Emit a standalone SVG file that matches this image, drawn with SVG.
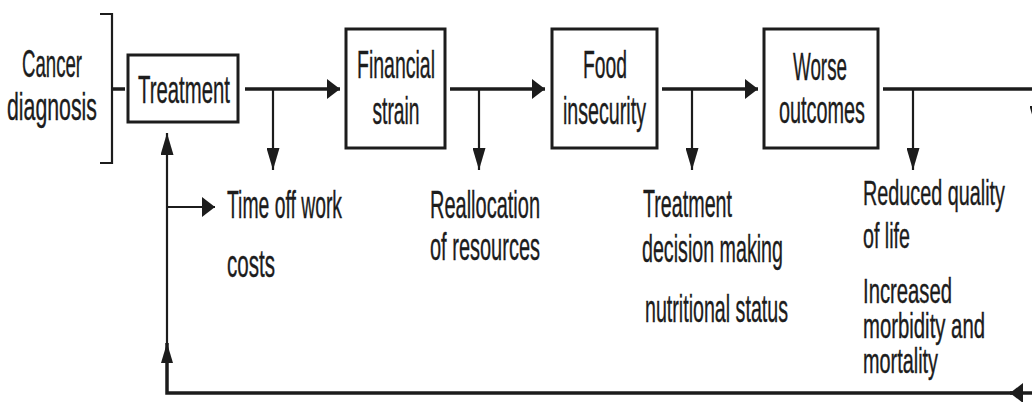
<svg xmlns="http://www.w3.org/2000/svg" width="1032" height="402" viewBox="0 0 1032 402">
<style>
  .t { font-family: "Liberation Sans", Arial, sans-serif; font-size: 39px; fill: #1c1c1c; stroke: #1c1c1c; stroke-width: 0.4; }
  .s { font-size: 35px; }
  .c { text-anchor: middle; }
  .box { fill: #ffffff; stroke: #1c1c1c; stroke-width: 3; }
  .main { fill: none; stroke: #1c1c1c; stroke-width: 3.5; }
  .br { fill: none; stroke: #1c1c1c; stroke-width: 2.2; }
</style>
<defs>
  <marker id="ah" markerUnits="userSpaceOnUse" markerWidth="13" markerHeight="20" refX="13" refY="10" orient="auto">
    <polygon points="0,0 13,10 0,20" fill="#1c1c1c"/>
  </marker>
  <marker id="av" markerUnits="userSpaceOnUse" markerWidth="22" markerHeight="13" refX="22" refY="6.5" orient="auto">
    <polygon points="0,0 22,6.5 0,13" fill="#1c1c1c"/>
  </marker>
</defs>
<rect width="1032" height="402" fill="#ffffff"/>

<g id="cancer-diagnosis">
  <path class="br" d="M100,14 H112 V163 H100"/>
  <text class="t c" x="52" y="77" textLength="60" lengthAdjust="spacingAndGlyphs">Cancer</text>
  <text class="t c" x="52" y="120" textLength="90" lengthAdjust="spacingAndGlyphs">diagnosis</text>
</g>

<g id="treatment">
  <rect class="box" x="128" y="55" width="110" height="67"/>
  <text class="t c" x="184" y="103" textLength="92" lengthAdjust="spacingAndGlyphs">Treatment</text>
</g>

<g id="financial-strain">
  <rect class="box" x="346" y="29" width="99" height="119"/>
  <text class="t c" x="396" y="78" textLength="78" lengthAdjust="spacingAndGlyphs">Financial</text>
  <text class="t c" x="396" y="124" textLength="47" lengthAdjust="spacingAndGlyphs">strain</text>
</g>

<g id="food-insecurity">
  <rect class="box" x="552" y="29" width="105" height="119"/>
  <text class="t c" x="605" y="78" textLength="44" lengthAdjust="spacingAndGlyphs">Food</text>
  <text class="t c" x="604.5" y="124" textLength="83" lengthAdjust="spacingAndGlyphs">insecurity</text>
</g>

<g id="worse-outcomes">
  <rect class="box" x="764" y="29" width="114" height="119"/>
  <text class="t c" x="820" y="80" textLength="54" lengthAdjust="spacingAndGlyphs">Worse</text>
  <text class="t c" x="822" y="123" textLength="86" lengthAdjust="spacingAndGlyphs">outcomes</text>
</g>

<g id="time-off-work">
  <text class="t" x="227" y="218" textLength="115" lengthAdjust="spacingAndGlyphs">Time off work</text>
  <text class="t" x="227" y="277" textLength="48" lengthAdjust="spacingAndGlyphs">costs</text>
</g>

<g id="reallocation">
  <text class="t" x="430" y="218" textLength="110" lengthAdjust="spacingAndGlyphs">Reallocation</text>
  <text class="t" x="430" y="260" textLength="110" lengthAdjust="spacingAndGlyphs">of resources</text>
</g>

<g id="treatment-decision">
  <text class="t" x="643" y="217" textLength="89" lengthAdjust="spacingAndGlyphs">Treatment</text>
  <text class="t" x="642" y="262" textLength="141" lengthAdjust="spacingAndGlyphs">decision making</text>
  <text class="t" x="645" y="322" textLength="143" lengthAdjust="spacingAndGlyphs">nutritional status</text>
</g>

<g id="outcomes-list">
  <text class="t s" x="863" y="205" textLength="142" lengthAdjust="spacingAndGlyphs">Reduced quality</text>
  <text class="t s" x="863" y="248" textLength="47" lengthAdjust="spacingAndGlyphs">of life</text>
  <text class="t s" x="863" y="303" textLength="89" lengthAdjust="spacingAndGlyphs">Increased</text>
  <text class="t s" x="863" y="338" textLength="122" lengthAdjust="spacingAndGlyphs">morbidity and</text>
  <text class="t s" x="863" y="373" textLength="75" lengthAdjust="spacingAndGlyphs">mortality</text>
</g>

<g id="connectors">
  <line class="main" x1="113" y1="89" x2="125" y2="89"/>
  <line class="main" x1="245" y1="89" x2="340" y2="89" marker-end="url(#ah)"/>
  <line class="main" x1="450" y1="89" x2="545" y2="89" marker-end="url(#ah)"/>
  <line class="main" x1="662" y1="89" x2="758" y2="89" marker-end="url(#ah)"/>
  <line class="main" x1="883" y1="89" x2="1032" y2="89"/>
  <line class="br" x1="273" y1="89" x2="273" y2="170" marker-end="url(#av)"/>
  <line class="br" x1="479" y1="89" x2="479" y2="170" marker-end="url(#av)"/>
  <line class="br" x1="692" y1="89" x2="692" y2="170" marker-end="url(#av)"/>
  <line class="br" x1="913" y1="89" x2="913" y2="170" marker-end="url(#av)"/>
  <line class="br" x1="1036" y1="89" x2="1036" y2="128" marker-end="url(#av)"/>
  <line class="main" x1="1032" y1="393" x2="1010" y2="393" marker-end="url(#ah)"/>
  <path class="main" d="M1012,393 H167 V343"/>
  <line class="br" x1="167" y1="345" x2="167" y2="133" marker-end="url(#av)"/>
  <polygon points="161,363 167,343 173,363" fill="#1c1c1c"/>
  <line class="br" x1="167" y1="207" x2="215" y2="207" marker-end="url(#ah)"/>
</g>
</svg>
